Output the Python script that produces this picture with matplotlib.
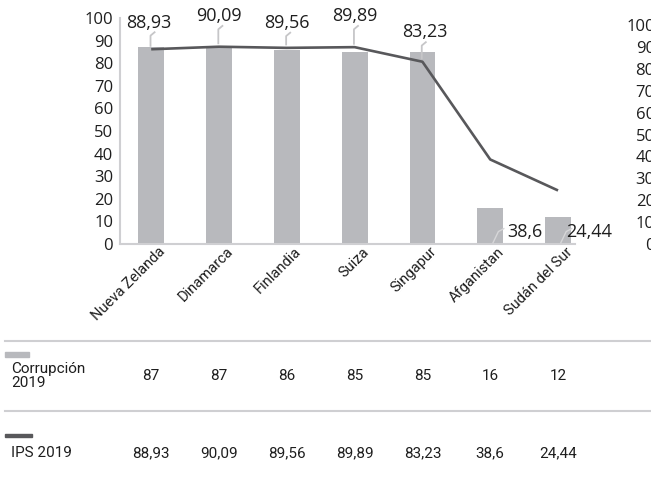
import matplotlib
matplotlib.use("Agg")
import matplotlib.pyplot as plt
from matplotlib.lines import Line2D
from matplotlib.patches import Rectangle
from matplotlib import transforms

# ---- data ----
countries = ["Nueva Zelanda", "Dinamarca", "Finlandia", "Suiza", "Singapur", "Afganistan", "Sudán del Sur"]
corrupcion_2019 = [87, 87, 86, 85, 85, 16, 12]
ips_2019 = [88.93, 90.09, 89.56, 89.89, 83.23, 38.6, 24.44]
yticks = [0, 10, 20, 30, 40, 50, 60, 70, 80, 90, 100]
series_names = ["Corrupción\n2019", "IPS 2019"]

def fmt(v):
    s = ("%g" % v)
    return s.replace(".", ",")

W, H = 651, 486
fig = plt.figure(figsize=(W / 100, H / 100), dpi=100)
BAR = "#b8b9bd"
LINE = "#58585b"
TXT = "#1e1e1e"
GRID = "#cfcfd2"
FONT = "Open Sans"
TFONT = "Roboto"

ax = fig.add_axes([120 / W, 1 - 244 / H, (575 - 120) / W, (244 - 18) / H])
x = list(range(len(countries)))
ax.bar(x, corrupcion_2019, width=0.38, color=BAR, zorder=2)
ax.set_xlim(-0.46, 6.25)
ax.set_ylim(0, 100)
ax.set_yticks(yticks)
ax.set_yticklabels([str(t) for t in yticks], fontsize=12, color=TXT, family=FONT)
ax.tick_params(axis="y", length=0, pad=5)
ax.set_xticks(x)
ax.set_xticklabels(countries, rotation=45, ha="right", rotation_mode="anchor",
                   fontsize=10.5, color=TXT, family=TFONT)
ax.tick_params(axis="x", length=0, pad=4)
for lab in ax.get_xticklabels():
    lab.set_transform(lab.get_transform() + transforms.ScaledTranslation(7 / 100, 5 / 100, fig.dpi_scale_trans))
for s in ["top", "right"]:
    ax.spines[s].set_visible(False)
for s in ["left", "bottom"]:
    ax.spines[s].set_color(GRID)
    ax.spines[s].set_linewidth(1.5)

ax2 = ax.twinx()
top2 = 103.2
ax2.set_ylim(0, top2)
ax2.plot(x, ips_2019, color=LINE, lw=1.9, zorder=3, solid_capstyle="butt")
ax2.set_yticks(yticks)
ax2.set_yticklabels([str(t) for t in yticks], fontsize=12, color=TXT, family=FONT)
ax2.tick_params(axis="y", length=0, pad=57.5)
for lab in ax2.get_yticklabels():
    lab.set_horizontalalignment("right")
for s in ax2.spines.values():
    s.set_visible(False)

# data labels (positions are style)
label_y = [98.0, 100.8, 97.8, 100.8, 93.6]
for i in range(5):
    ly = label_y[i]
    ax.text(i - 0.03 if i == 0 else i + 0.04 * (i >= 4), ly, fmt(ips_2019[i]), ha="center", va="center",
            fontsize=13, color=TXT, family=FONT, clip_on=False, zorder=5)
    py = ips_2019[i] * 100 / top2
    ax.plot([i + 0.05, i - 0.01, i - 0.01], [ly - 4.3, ly - 5.8, py + 1.5],
            color="#c6c6c8", lw=1.3, clip_on=False, zorder=4)
for i, lx in [(5, 5.25), (6, 6.12)]:
    ax.text(lx, 5.3, fmt(ips_2019[i]), ha="left", va="center",
            fontsize=13, color=TXT, family=FONT, clip_on=False, zorder=5)
    ax.plot([i + 0.04, i + 0.12, i + 0.2], [0.5, 5.5, 6.8],
            color="#d6d6d8", lw=1.0, zorder=4)

# ---- table ----
bt = transforms.blended_transform_factory(ax.transData, fig.transFigure)
def fy(p):
    return 1 - p / H
for yy in [341, 411]:
    fig.add_artist(Line2D([5 / W, 1], [fy(yy), fy(yy)], color=GRID, lw=1.5, transform=fig.transFigure))
fig.add_artist(Rectangle((5 / W, fy(357)), 24 / W, 5 / H, color=BAR, transform=fig.transFigure))
fig.add_artist(Rectangle((5 / W, fy(437)), 27 / W, 3 / H, color=LINE, transform=fig.transFigure))
fig.text(11 / W, fy(376), series_names[0], ha="left", va="center", fontsize=11, color=TXT,
         family=TFONT, linespacing=1.05)
fig.text(11 / W, fy(453), series_names[1], ha="left", va="center", fontsize=11, color=TXT, family=TFONT)
for i in x:
    fig.text(i, fy(376), fmt(corrupcion_2019[i]), transform=bt, ha="center", va="center",
             fontsize=11, color=TXT, family=TFONT)
    fig.text(i, fy(453), fmt(ips_2019[i]), transform=bt, ha="center", va="center",
             fontsize=11, color=TXT, family=TFONT)

fig.savefig("out.png", dpi=100)
